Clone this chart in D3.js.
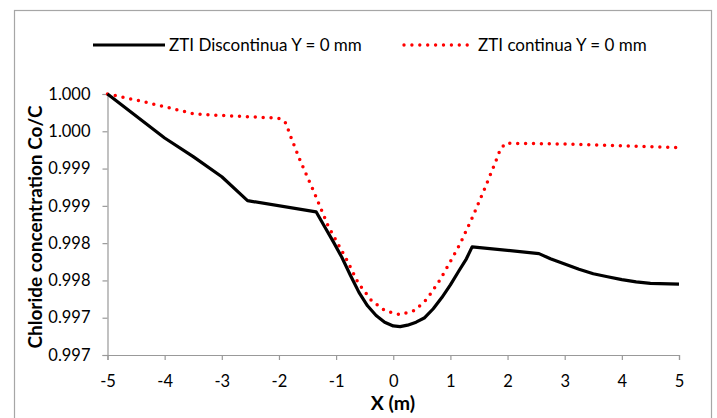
<!DOCTYPE html>
<html>
<head>
<meta charset="utf-8">
<script src="https://cdn.jsdelivr.net/npm/d3@7"></script>
<style>
  html, body { margin: 0; padding: 0; background: #fff; }
  svg { display: block; }
  text { font-family: Lato, "Open Sans", sans-serif; fill: #000; }
</style>
</head>
<body>
<svg id="chart" width="717" height="418"></svg>
<script>
// ---- data ----
const seriesNames = ["ZTI Discontinua Y = 0 mm", "ZTI continua Y = 0 mm"];
const discX = [-5, -4, -3.5, -3, -2.55, -1.35, -1.2, -1.05, -0.9, -0.75, -0.6, -0.45, -0.3, -0.15, 0, 0.12, 0.25, 0.4, 0.55, 0.7, 0.85, 1.0, 1.15, 1.28, 1.38, 2.55, 2.75, 3.0, 3.25, 3.5, 3.75, 4.0, 4.25, 4.5, 5.0];
const discY = [1.0000, 0.99941, 0.99916, 0.99889, 0.99857, 0.99842, 0.99822, 0.99802, 0.99781, 0.99757, 0.99734, 0.99716, 0.99703, 0.99694, 0.99689, 0.99688, 0.99690, 0.99694, 0.99700, 0.99712, 0.99727, 0.99744, 0.99763, 0.99779, 0.99795, 0.99786, 0.99779, 0.99772, 0.99765, 0.99759, 0.99755, 0.99751, 0.99748, 0.99746, 0.99745];
const contX = [-5, -4.87, -4.33, -3.79, -3.52, -3.24, -2.68, -2.13, -1.98, -1.88, -1.78, -1.63, -1.40, -1.14, -0.81, -0.61, -0.38, -0.14, 0.12, 0.38, 0.59, 0.82, 0.96, 1.17, 1.40, 1.61, 1.78, 1.87, 1.96, 2.92, 5.0];
const contY = [1.0000, 0.99998, 0.99989, 0.99979, 0.99974, 0.99972, 0.99970, 0.99968, 0.99967, 0.99961, 0.99940, 0.99911, 0.99871, 0.99823, 0.99777, 0.99746, 0.99723, 0.99709, 0.99704, 0.99710, 0.99725, 0.99751, 0.99770, 0.99799, 0.99837, 0.99875, 0.99907, 0.99925, 0.99934, 0.99933, 0.99928];
const xTicks = [-5, -4, -3, -2, -1, 0, 1, 2, 3, 4, 5];
const yTicks = [0.9965, 0.9970, 0.9975, 0.9980, 0.9985, 0.9990, 0.9995, 1.0000];
const yTickLabels = ["0.997", "0.997", "0.998", "0.998", "0.999", "0.999", "1.000", "1.000"];
const xTitle = "X (m)";
const yTitle = "Chloride concentration Co/C";

// ---- layout ----
const svg = d3.select("#chart");
const pLeft = 107.5, pRight = 679, pTop = 94, pBottom = 355;

// outer frame
svg.append("rect").attr("x", 14.5).attr("y", 10.5).attr("width", 697).attr("height", 420)
  .attr("fill", "#fff").attr("stroke", "#a6a6a6").attr("stroke-width", 1.2);

const x = d3.scaleLinear().domain([-5, 5]).range([pLeft, pRight]);
const y = d3.scaleLinear().domain([0.9965, 1.0]).range([pBottom, pTop]);

// axes
const xAxis = svg.append("g").attr("transform", `translate(0,${pBottom})`)
  .call(d3.axisBottom(x).tickValues(xTicks).tickSize(5).tickPadding(15).tickFormat(d => String(d)));
const yAxis = svg.append("g").attr("transform", `translate(${pLeft},0)`)
  .call(d3.axisLeft(y).tickValues(yTicks).tickSize(5).tickPadding(12)
    .tickFormat((d, i) => yTickLabels[i]));
[xAxis, yAxis].forEach(g => {
  g.select(".domain").attr("stroke", "#999").attr("stroke-width", 1.2);
  g.selectAll(".tick line").attr("stroke", "#999").attr("stroke-width", 1.2);
  g.selectAll(".tick text").attr("font-size", 16.5).attr("font-family", "Lato, 'Open Sans', sans-serif").attr("fill", "#000");
});

// lines
const line = d3.line().x(d => x(d[0])).y(d => y(d[1])).curve(d3.curveLinear);
const discData = discX.map((v, i) => [v, discY[i]]);
const contData = contX.map((v, i) => [v, contY[i]]);

svg.append("path").datum(contData).attr("d", line)
  .attr("fill", "none").attr("stroke", "#ff0000").attr("stroke-width", 3.5)
  .attr("stroke-linecap", "round").attr("stroke-dasharray", "0,7.9");
svg.append("path").datum(discData).attr("d", line)
  .attr("fill", "none").attr("stroke", "#000").attr("stroke-width", 3.2)
  .attr("stroke-linejoin", "round");

// legend
svg.append("line").attr("x1", 93).attr("x2", 165).attr("y1", 45).attr("y2", 45)
  .attr("stroke", "#000").attr("stroke-width", 3.2);
svg.append("text").attr("x", 169).attr("y", 51).attr("font-size", 17).text(seriesNames[0]);
svg.append("line").attr("x1", 404).attr("x2", 468).attr("y1", 45).attr("y2", 45)
  .attr("stroke", "#ff0000").attr("stroke-width", 3.4)
  .attr("stroke-linecap", "round").attr("stroke-dasharray", "0,7.9");
svg.append("text").attr("x", 478).attr("y", 51).attr("font-size", 17).text(seriesNames[1]);

// axis titles
svg.append("text").attr("x", 393).attr("y", 410).attr("text-anchor", "middle")
  .attr("font-size", 19.5).attr("font-weight", "bold").text(xTitle);
svg.append("text").attr("transform", `translate(42,227) rotate(-90)`)
  .attr("text-anchor", "middle").attr("font-size", 19).attr("font-weight", "bold").text(yTitle);
</script>
</body>
</html>
